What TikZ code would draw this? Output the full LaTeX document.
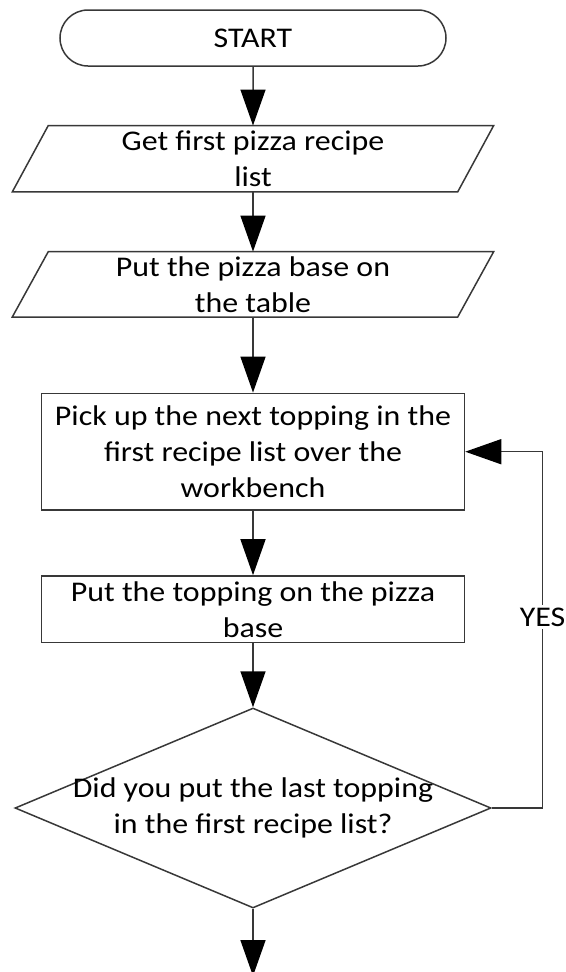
\documentclass[tikz,border=0pt]{standalone}
\usepackage{fontspec}
\setmainfont{Carlito}[FakeStretch=1.12]
\usetikzlibrary{arrows.meta,shapes.geometric,shapes.misc}

\tikzset{
  outline/.style={draw=black!78, line width=1.5pt},
  txt/.style={font=\fontsize{28.5}{36}\selectfont, text=black, align=center, inner sep=0pt},
  terminal/.style={outline, rounded rectangle, minimum width=386pt, minimum height=56pt, inner sep=0pt},
  slot/.style={draw=none, rectangle, inner sep=0pt},
  procbox/.style={outline, rectangle, inner sep=0pt},
  decision/.style={outline, diamond, inner sep=0pt, minimum width=476pt, minimum height=200pt},
  flow/.style={draw=black!78, line width=1.5pt, -{Triangle[length=36pt,width=25pt,color=black]}},
}

\begin{document}
\begin{tikzpicture}[x=1pt, y=-1pt]
  \useasboundingbox (0,0) rectangle (565,972);

  % terminal
  \node[terminal, txt] (start) at (253,38) {START};

  % input/output steps (parallelograms)
  \node[slot, minimum width=445pt, minimum height=66pt] (p1) at (253,158.7) {};
  \draw[outline] ([xshift=18pt]p1.north west) -- ([xshift=18pt]p1.north east)
    -- ([xshift=-18pt]p1.south east) -- ([xshift=-18pt]p1.south west) -- cycle;
  \node[txt] at (p1) {Get first pizza recipe\\list};

  \node[slot, minimum width=445pt, minimum height=65pt] (p2) at (253,284.3) {};
  \draw[outline] ([xshift=18pt]p2.north west) -- ([xshift=18pt]p2.north east)
    -- ([xshift=-18pt]p2.south east) -- ([xshift=-18pt]p2.south west) -- cycle;
  \node[txt] at (p2) {Put the pizza base on\\the table};

  % process steps
  \node[procbox, minimum width=423pt, minimum height=116.7pt] (r1) at (253,451.7) {};
  \node[txt] at (r1) {Pick up the next topping in the\\first recipe list over the\\workbench};

  \node[procbox, minimum width=423pt, minimum height=66.7pt] (r2) at (253,609.3) {};
  \node[txt] at (r2) {Put the topping on the pizza\\base};

  % decision
  \node[decision] (dec) at (253,808) {};
  \node[txt] at (dec) {Did you put the last topping\\in the first recipe list?};

  \coordinate (loop) at (542.6,451.7);
  \coordinate (exit) at (253,976);

  % connectors
  \draw[flow] (start) -- (p1.north);
  \draw[flow] (p1.south) -- (p2.north);
  \draw[flow] (p2.south) -- (r1.north);
  \draw[flow] (r1.south) -- (r2.north);
  \draw[flow] (r2.south) -- (dec.north);
  \draw[flow] (dec.east) -| (loop) -- (r1.east);
  \node[txt, fill=white, inner sep=3pt] at (542.6,617) {YES};
  \draw[flow] (dec.south) -- (exit);
\end{tikzpicture}
\end{document}
